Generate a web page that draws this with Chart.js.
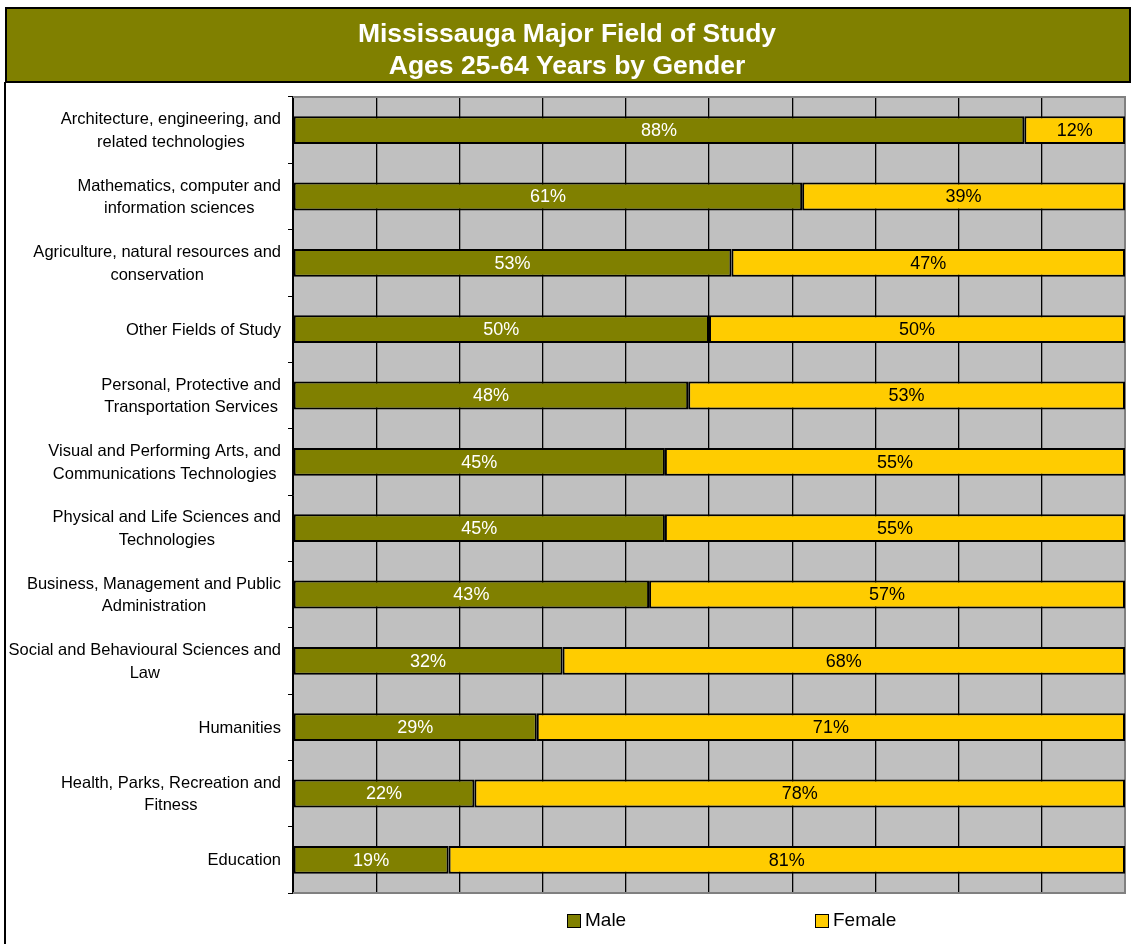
<!DOCTYPE html>
<html>
<head>
<meta charset="utf-8">
<script src="https://cdn.jsdelivr.net/npm/chart.js@4/dist/chart.umd.min.js"></script>
<style>
  html, body { margin: 0; padding: 0; background: #fff; overflow: hidden; }
  #wrap { width: 1131px; height: 944px; position: relative; }
</style>
</head>
<body>
<div id="wrap"><canvas id="chart"></canvas></div>
<script>
var fields = [
  ['Architecture, engineering, and', 'related technologies'],
  ['Mathematics, computer and', 'information sciences'],
  ['Agriculture, natural resources and', 'conservation'],
  ['Other Fields of Study'],
  ['Personal, Protective and', 'Transportation Services'],
  ['Visual and Performing Arts, and', 'Communications Technologies'],
  ['Physical and Life Sciences and', 'Technologies'],
  ['Business, Management and Public', 'Administration'],
  ['Social and Behavioural Sciences and', 'Law'],
  ['Humanities'],
  ['Health, Parks, Recreation and', 'Fitness'],
  ['Education']
];

// shares in percent
var male = [87.9, 61.2, 52.7, 50.0, 47.5, 44.7, 44.7, 42.8, 32.4, 29.3, 21.8, 18.7];
var female = [12.1, 38.8, 47.3, 50.0, 52.5, 55.3, 55.3, 57.2, 67.6, 70.7, 78.2, 81.3];

var seriesNames = ['Male', 'Female'];
var seriesColors = ['#808000', '#FFCC00'];
var labelColors = ['#FFFFFF', '#000000'];

var titleLines = ['Mississauga Major Field of Study', 'Ages 25-64 Years by Gender'];

var FONT = "'Liberation Sans', Arial, Helvetica, sans-serif";

var framePlugin = {
  id: 'frame',
  beforeDraw: function(chart) {
    var ctx = chart.ctx;
    var a = chart.chartArea;
    var t = chart.titleBlock;
    ctx.save();
    // title box
    ctx.fillStyle = '#808000';
    ctx.fillRect(6, t.top, 1124, 74);
    ctx.lineWidth = 2;
    ctx.strokeStyle = '#000';
    ctx.strokeRect(6, t.top, 1124, 74);
    // outer left border
    ctx.beginPath();
    ctx.moveTo(5, t.top + 74);
    ctx.lineTo(5, chart.height);
    ctx.stroke();
    // plot background
    ctx.fillStyle = '#C0C0C0';
    ctx.fillRect(a.left, a.top, a.right - a.left, a.bottom - a.top);
    ctx.restore();
  },
  beforeDatasetsDraw: function(chart) {
    var ctx = chart.ctx;
    var a = chart.chartArea;
    ctx.save();
    ctx.strokeStyle = '#808080';
    ctx.lineWidth = 2;
    ctx.beginPath();
    ctx.moveTo(a.left, a.top);
    ctx.lineTo(a.right, a.top);
    ctx.lineTo(a.right, a.bottom);
    ctx.lineTo(a.left, a.bottom);
    ctx.stroke();
    ctx.restore();
  },
  afterDatasetsDraw: function(chart) {
    var ctx = chart.ctx;
    ctx.save();
    ctx.font = '18px ' + FONT;
    ctx.textAlign = 'center';
    ctx.textBaseline = 'middle';
    chart.data.datasets.forEach(function(ds, d) {
      var meta = chart.getDatasetMeta(d);
      ctx.fillStyle = labelColors[d];
      meta.data.forEach(function(bar, i) {
        var p = bar.getProps(['x', 'y', 'base'], true);
        ctx.fillText(Math.round(ds.data[i]) + '%', (p.x + p.base) / 2, p.y + 1);
      });
    });
    ctx.restore();
  },
  afterDraw: function(chart) {
    var ctx = chart.ctx;
    var y = chart.scales.y;
    var right = chart.chartArea.left - 12;
    var lh = 22.5;
    ctx.save();
    ctx.font = '16.5px ' + FONT;
    ctx.fillStyle = '#000';
    ctx.textAlign = 'center';
    ctx.textBaseline = 'middle';
    fields.forEach(function(lines, i) {
      var cy = y.getPixelForTick(i) + 1;
      var w = 0;
      lines.forEach(function(s) { w = Math.max(w, ctx.measureText(s).width); });
      var cx = right - w / 2;
      var top = cy - (lines.length - 1) * lh / 2;
      lines.forEach(function(s, k) {
        ctx.fillText(s, cx, top + k * lh);
      });
    });

    // legend
    var items = [[567, 585], [815, 833]];
    ctx.font = '19px ' + FONT;
    ctx.textAlign = 'left';
    ctx.lineWidth = 1;
    ctx.strokeStyle = '#000';
    items.forEach(function(it, k) {
      ctx.fillStyle = seriesColors[k];
      ctx.fillRect(it[0] + 0.5, 914.5, 13, 13);
      ctx.strokeRect(it[0] + 0.5, 914.5, 13, 13);
      ctx.fillStyle = '#000';
      ctx.fillText(seriesNames[k], it[1], 921);
    });
    ctx.restore();
  }
};

new Chart(document.getElementById('chart'), {
  type: 'bar',
  data: {
    labels: fields,
    datasets: [male, female].map(function(vals, k) {
      return {
        label: seriesNames[k],
        data: vals,
        backgroundColor: seriesColors[k],
        borderColor: '#000',
        borderWidth: 2,
        borderSkipped: false,
        categoryPercentage: 1,
        barPercentage: 0.42
      };
    })
  },
  options: {
    indexAxis: 'y',
    responsive: true,
    maintainAspectRatio: false,
    animation: false,
    layout: { padding: { left: 9, right: 6, top: 8, bottom: 51 } },
    plugins: {
      legend: { display: false },
      tooltip: { enabled: false },
      title: {
        display: true,
        text: titleLines,
        color: '#FFFFFF',
        font: { family: FONT, size: 26.5, weight: 'bold', lineHeight: 1.2 },
        padding: { top: 11, bottom: 14.4 }
      }
    },
    scales: {
      x: {
        stacked: true,
        min: 0,
        max: 100,
        ticks: { display: false, stepSize: 10 },
        grid: { color: '#000', lineWidth: 1.3, drawTicks: false },
        border: { display: false },
        afterFit: function(s) { s.height = 0; }
      },
      y: {
        stacked: true,
        ticks: { display: false },
        grid: { offset: true, drawOnChartArea: false, drawTicks: true, tickLength: 5, color: '#000' },
        border: { display: true, color: '#000', width: 1 },
        afterFit: function(s) { s.width = 284; }
      }
    }
  },
  plugins: [framePlugin]
});
</script>
</body>
</html>
